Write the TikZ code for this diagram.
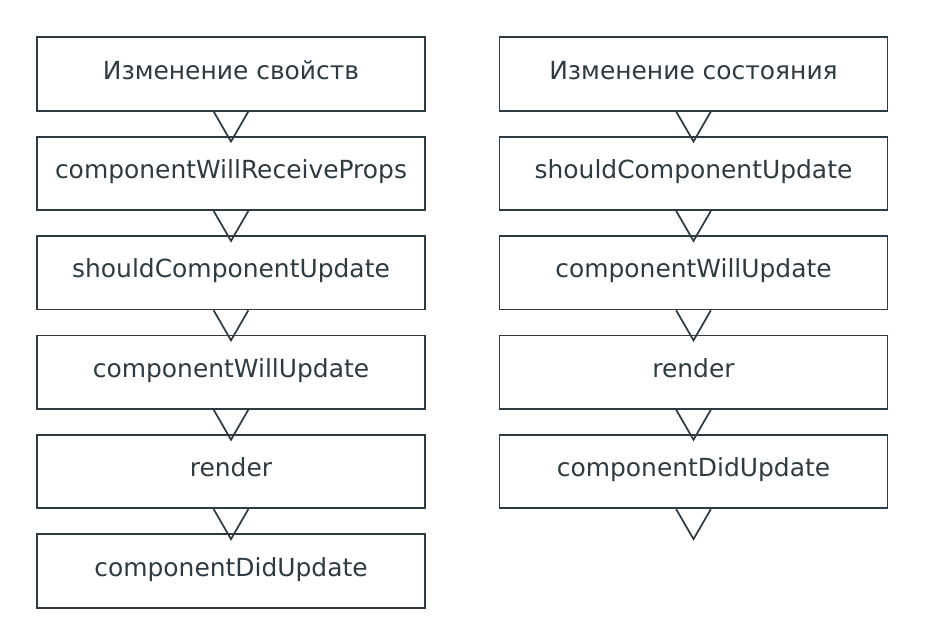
\documentclass[tikz,border=0pt]{standalone}
\usepackage{fontspec}
\setmainfont{DejaVu Sans}
\definecolor{linecol}{HTML}{2E3B40}
\tikzset{
    stage/.style={draw=linecol, line width=1.3pt, text=linecol, font=\fontsize{18.7}{22}\selectfont,
        minimum width=291pt, minimum height=55pt, inner sep=0pt, text height=7.6pt, text depth=0pt},
    tri/.style={draw=linecol, line width=1.3pt, line join=miter},
}
\begin{document}
\begin{tikzpicture}[x=0.75pt, y=-0.75pt]
    \useasboundingbox (0, 0) rectangle (930, 640);
    % left column: props change
    \node[stage] (p1) at (231, 74) {Изменение свойств};
    \node[stage] (p2) at (231, 173.4) {componentWillReceiveProps};
    \node[stage] (p3) at (231, 272.8) {shouldComponentUpdate};
    \node[stage] (p4) at (231, 372.2) {componentWillUpdate};
    \node[stage] (p5) at (231, 471.6) {render};
    \node[stage] (p6) at (231, 571) {componentDidUpdate};
    % right column: state change
    \node[stage] (s1) at (693.5, 74) {Изменение состояния};
    \node[stage] (s2) at (693.5, 173.4) {shouldComponentUpdate};
    \node[stage] (s3) at (693.5, 272.8) {componentWillUpdate};
    \node[stage] (s4) at (693.5, 372.2) {render};
    \node[stage] (s5) at (693.5, 471.6) {componentDidUpdate};
    % open triangles between stages
    \draw[tri] ([xshift=-13pt]p1.south) -- ([yshift=-22.5pt]p1.south) -- ([xshift=13pt]p1.south);
    \draw[tri] ([xshift=-13pt]p2.south) -- ([yshift=-22.5pt]p2.south) -- ([xshift=13pt]p2.south);
    \draw[tri] ([xshift=-13pt]p3.south) -- ([yshift=-22.5pt]p3.south) -- ([xshift=13pt]p3.south);
    \draw[tri] ([xshift=-13pt]p4.south) -- ([yshift=-22.5pt]p4.south) -- ([xshift=13pt]p4.south);
    \draw[tri] ([xshift=-13pt]p5.south) -- ([yshift=-22.5pt]p5.south) -- ([xshift=13pt]p5.south);
    \draw[tri] ([xshift=-13pt]s1.south) -- ([yshift=-22.5pt]s1.south) -- ([xshift=13pt]s1.south);
    \draw[tri] ([xshift=-13pt]s2.south) -- ([yshift=-22.5pt]s2.south) -- ([xshift=13pt]s2.south);
    \draw[tri] ([xshift=-13pt]s3.south) -- ([yshift=-22.5pt]s3.south) -- ([xshift=13pt]s3.south);
    \draw[tri] ([xshift=-13pt]s4.south) -- ([yshift=-22.5pt]s4.south) -- ([xshift=13pt]s4.south);
    \draw[tri] ([xshift=-13pt]s5.south) -- ([yshift=-22.5pt]s5.south) -- ([xshift=13pt]s5.south);
\end{tikzpicture}
\end{document}
